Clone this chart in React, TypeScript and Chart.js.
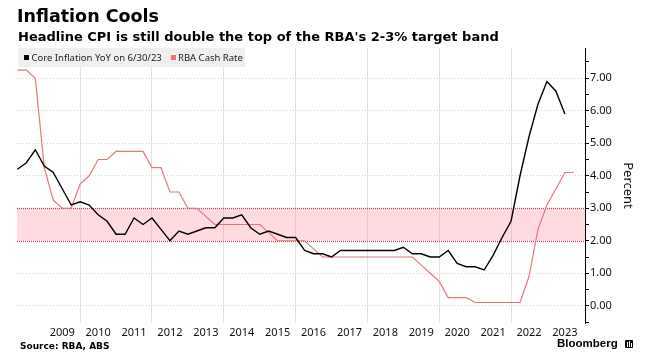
import { useEffect, useRef } from "react";
import { Chart, registerables } from "chart.js";

Chart.register(...registerables);

const QUARTERS = [
  "2008-03", "2008-06", "2008-09", "2008-12",
  "2009-03", "2009-06", "2009-09", "2009-12",
  "2010-03", "2010-06", "2010-09", "2010-12",
  "2011-03", "2011-06", "2011-09", "2011-12",
  "2012-03", "2012-06", "2012-09", "2012-12",
  "2013-03", "2013-06", "2013-09", "2013-12",
  "2014-03", "2014-06", "2014-09", "2014-12",
  "2015-03", "2015-06", "2015-09", "2015-12",
  "2016-03", "2016-06", "2016-09", "2016-12",
  "2017-03", "2017-06", "2017-09", "2017-12",
  "2018-03", "2018-06", "2018-09", "2018-12",
  "2019-03", "2019-06", "2019-09", "2019-12",
  "2020-03", "2020-06", "2020-09", "2020-12",
  "2021-03", "2021-06", "2021-09", "2021-12",
  "2022-03", "2022-06", "2022-09", "2022-12",
  "2023-03", "2023-06", "2023-09",
];

const CORE_INFLATION = [
  4.2, 4.4, 4.8, 4.3,
  4.1, 3.6, 3.1, 3.2,
  3.1, 2.8, 2.6, 2.2,
  2.2, 2.7, 2.5, 2.7,
  2.35, 2.0, 2.3, 2.2,
  2.3, 2.4, 2.4, 2.7,
  2.7, 2.8, 2.4, 2.2,
  2.3, 2.2, 2.1, 2.1,
  1.7, 1.6, 1.6, 1.5,
  1.7, 1.7, 1.7, 1.7,
  1.7, 1.7, 1.7, 1.8,
  1.6, 1.6, 1.5, 1.5,
  1.7, 1.3, 1.2, 1.2,
  1.1, 1.55, 2.1, 2.6,
  4.0, 5.2, 6.2, 6.9,
  6.6, 5.9,
];

const CASH_RATE = [
  7.25, 7.25, 7.0, 4.25,
  3.25, 3.0, 3.0, 3.75,
  4.0, 4.5, 4.5, 4.75,
  4.75, 4.75, 4.75, 4.25,
  4.25, 3.5, 3.5, 3.0,
  3.0, 2.75, 2.5, 2.5,
  2.5, 2.5, 2.5, 2.5,
  2.25, 2.0, 2.0, 2.0,
  2.0, 1.75, 1.5, 1.5,
  1.5, 1.5, 1.5, 1.5,
  1.5, 1.5, 1.5, 1.5,
  1.5, 1.25, 1.0, 0.75,
  0.25, 0.25, 0.25, 0.1,
  0.1, 0.1, 0.1, 0.1,
  0.1, 0.9, 2.35, 3.1,
  3.6, 4.1, 4.1,
];

const YEAR_LABELS = [2009, 2010, 2011, 2012, 2013, 2014, 2015, 2016, 2017, 2018, 2019, 2020, 2021, 2022, 2023];
const GRID_YEARS = [2010, 2012, 2014, 2016, 2018, 2020, 2022];
const Y_TICKS = [-0.5, 0, 0.5, 1, 1.5, 2, 2.5, 3, 3.5, 4, 4.5, 5, 5.5, 6, 6.5, 7, 7.5];
const Y_LABELED = [0, 1, 2, 3, 4, 5, 6, 7];
const TARGET_BAND = [2, 3];

const SERIES_NAMES = ["Core Inflation YoY on 6/30/23", "RBA Cash Rate"];
const COLORS = { core: "#000000", cash: "#e5777a" };

function toYear(q: string): number {
  const [y, m] = q.split("-").map(Number);
  return y + m / 12;
}

const bandPlugin = {
  id: "targetBand",
  beforeDatasetsDraw(chart: any) {
    const { ctx, chartArea, scales } = chart;
    const y = scales.y;
    const yLo = y.getPixelForValue(TARGET_BAND[0]);
    const yHi = y.getPixelForValue(TARGET_BAND[1]);
    ctx.save();
    ctx.fillStyle = "rgba(255, 135, 155, 0.30)";
    ctx.fillRect(chartArea.left, yHi, chartArea.right - chartArea.left, yLo - yHi);
    ctx.strokeStyle = "#b9495d";
    ctx.lineWidth = 1.3;
    ctx.setLineDash([1, 1]);
    for (const v of TARGET_BAND) {
      const py = Math.round(y.getPixelForValue(v)) + 0.5;
      ctx.beginPath();
      ctx.moveTo(chartArea.left, py);
      ctx.lineTo(chartArea.right, py);
      ctx.stroke();
    }
    ctx.restore();
  },
};

export default function App() {
  const canvasRef = useRef<HTMLCanvasElement | null>(null);

  useEffect(() => {
    if (!canvasRef.current) return;
    const tickFont = { family: "'Noto Sans', sans-serif", size: 11 };
    const chart = new Chart(canvasRef.current, {
      type: "line",
      data: {
        datasets: [
          {
            label: SERIES_NAMES[0],
            data: CORE_INFLATION.map((v, i) => ({ x: toYear(QUARTERS[i]), y: v })),
            borderColor: COLORS.core,
            backgroundColor: COLORS.core,
            borderWidth: 1.4,
            pointRadius: 0,
            tension: 0,
          },
          {
            label: SERIES_NAMES[1],
            data: CASH_RATE.map((v, i) => ({ x: toYear(QUARTERS[i]), y: v })),
            borderColor: COLORS.cash,
            backgroundColor: COLORS.cash,
            borderWidth: 1.2,
            pointRadius: 0,
            tension: 0,
          },
        ],
      },
      options: {
        animation: false,
        responsive: false,
        maintainAspectRatio: false,
        layout: { padding: { left: 17, top: 48, right: 0, bottom: 0 } },
        plugins: {
          legend: { display: false },
          tooltip: { enabled: false },
        },
        scales: {
          x: {
            type: "linear",
            min: 2008.24,
            max: 2024.06,
            afterBuildTicks: (s: any) => {
              const vals = [...GRID_YEARS, ...YEAR_LABELS.map((y) => y + 0.5)].sort((a, b) => a - b);
              s.ticks = vals.map((value) => ({ value }));
            },
            afterFit: (s: any) => {
              s.height = 38;
            },
            grid: {
              color: (ctx: any) =>
                ctx.tick && Number.isInteger(ctx.tick.value) ? "#e2e2e2" : "rgba(0,0,0,0)",
              drawTicks: false,
              lineWidth: 1,
            },
            border: { display: false },
            ticks: {
              autoSkip: false,
              maxRotation: 0,
              minRotation: 0,
              padding: 3,
              color: "#111",
              font: tickFont,
              callback: (v: any) => (Math.abs((v % 1) - 0.5) < 1e-6 ? String(Math.floor(v)) : ""),
            },
          },
          y: {
            position: "right",
            min: -0.53,
            max: 7.93,
            afterBuildTicks: (s: any) => {
              s.ticks = Y_TICKS.map((value) => ({ value }));
            },
            afterFit: (s: any) => {
              s.width = 65;
            },
            grid: {
              color: (ctx: any) => {
                const v = ctx.tick ? ctx.tick.value : NaN;
                if (!Y_LABELED.includes(v) || TARGET_BAND.includes(v)) return "rgba(0,0,0,0)";
                return "#d0d0d0";
              },
              tickColor: "#000",
              tickLength: 4,
              drawTicks: true,
              lineWidth: 1,
            },
            border: { display: true, color: "#000", width: 1, dash: [1, 2] },
            ticks: {
              padding: 1,
              color: "#111",
              font: tickFont,
              callback: (v: any) => (Y_LABELED.includes(v) ? Number(v).toFixed(2) : ""),
            },
            title: {
              display: true,
              text: "Percent",
              color: "#111",
              font: { family: "'Noto Sans', sans-serif", size: 13 },
              padding: { top: 14, bottom: 0 },
            },
          },
        },
      },
      plugins: [bandPlugin],
    } as any);
    return () => chart.destroy();
  }, []);

  return (
    <div
      style={{
        position: "absolute",
        left: 0,
        top: 0,
        width: 650,
        height: 361,
        background: "#fff",
        overflow: "hidden",
      }}
    >
      <canvas
        ref={canvasRef}
        width={650}
        height={361}
        style={{ position: "absolute", left: 0, top: 0, width: 650, height: 361 }}
      />
      <div
        style={{
          position: "absolute",
          left: 17,
          top: 6,
          font: "bold 17.5px 'DejaVu Sans', sans-serif",
          lineHeight: "21px",
          color: "#000",
          whiteSpace: "nowrap",
        }}
      >
        Inflation Cools
      </div>
      <div
        style={{
          position: "absolute",
          left: 18,
          top: 29,
          font: "bold 13px 'DejaVu Sans', sans-serif",
          lineHeight: "15px",
          color: "#000",
          whiteSpace: "nowrap",
        }}
      >
        Headline CPI is still double the top of the RBA's 2-3% target band
      </div>
      <div
        style={{
          position: "absolute",
          left: 18,
          top: 48,
          width: 227,
          height: 19,
          background: "#efefef",
          font: "9.5px 'Noto Sans', sans-serif",
          color: "#222",
        }}
      >
        <span style={{ position: "absolute", left: 6, top: 7, width: 5, height: 5, background: COLORS.core }} />
        <span style={{ position: "absolute", left: 13.5, top: 3, lineHeight: "13px", whiteSpace: "nowrap" }}>
          {SERIES_NAMES[0]}
        </span>
        <span style={{ position: "absolute", left: 153, top: 7, width: 5, height: 5, background: COLORS.cash }} />
        <span style={{ position: "absolute", left: 160, top: 3, lineHeight: "13px", whiteSpace: "nowrap" }}>
          {SERIES_NAMES[1]}
        </span>
      </div>
      <div
        style={{
          position: "absolute",
          left: 20,
          top: 341,
          font: "bold 9px 'DejaVu Sans', sans-serif",
          lineHeight: "11px",
          color: "#000",
          whiteSpace: "nowrap",
        }}
      >
        Source: RBA, ABS
      </div>
      <div
        style={{
          position: "absolute",
          left: 557,
          top: 337,
          font: "bold 11.5px 'Liberation Sans', sans-serif",
          lineHeight: "13px",
          color: "#000",
          whiteSpace: "nowrap",
        }}
      >
        Bloomberg
      </div>
      <div
        style={{
          position: "absolute",
          left: 625,
          top: 340,
          width: 8,
          height: 8,
          background: "#000",
          borderRadius: 1,
        }}
      >
        <div style={{ position: "absolute", left: 2, top: 2, width: 1, height: 5, background: "#fff" }} />
        <div style={{ position: "absolute", left: 4, top: 1, width: 1, height: 6, background: "#fff" }} />
        <div style={{ position: "absolute", left: 6, top: 3, width: 1, height: 4, background: "#fff" }} />
      </div>
    </div>
  );
}
